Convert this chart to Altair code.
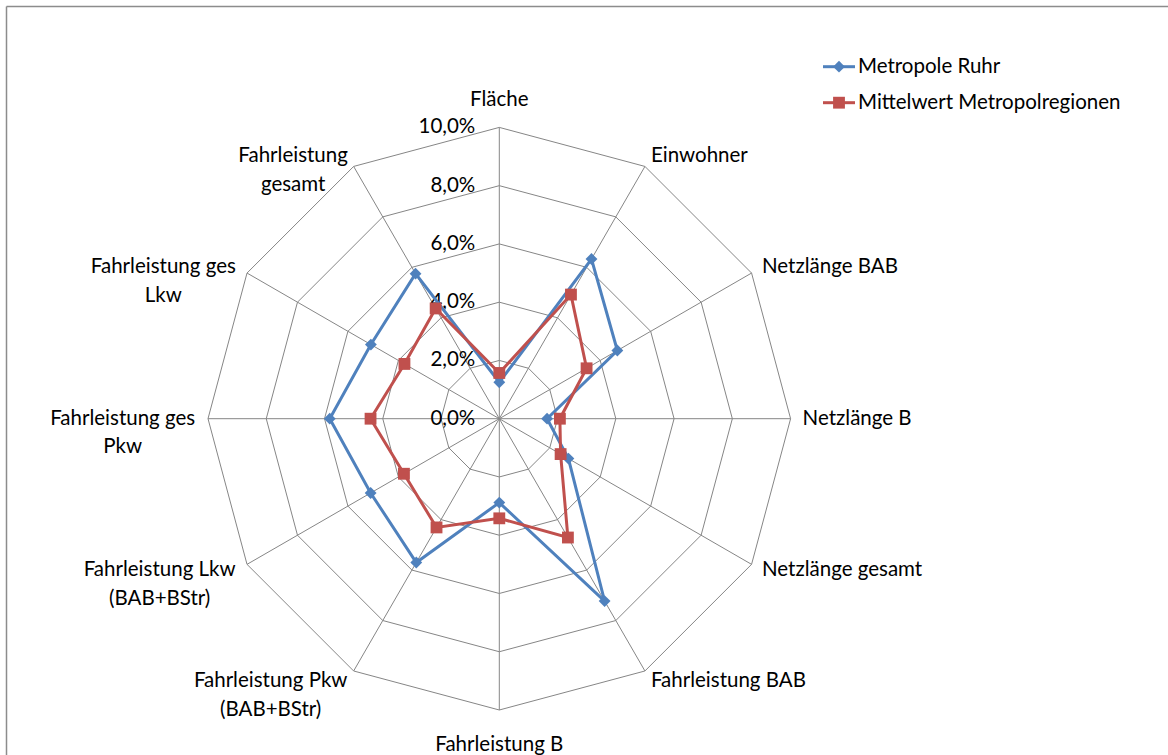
import math
import textwrap

import altair as alt
import pandas as pd

# ---- data -------------------------------------------------------------
categories = [
    "Fläche", "Einwohner", "Netzlänge BAB", "Netzlänge B", "Netzlänge gesamt",
    "Fahrleistung BAB", "Fahrleistung B", "Fahrleistung Pkw (BAB+BStr)",
    "Fahrleistung Lkw (BAB+BStr)", "Fahrleistung ges Pkw", "Fahrleistung ges Lkw",
    "Fahrleistung gesamt",
]
ruhr = [1.25, 6.33, 4.68, 1.64, 2.74, 7.23, 2.88, 5.70, 5.10, 5.82, 5.09, 5.75]
mittel = [1.57, 4.92, 3.46, 2.08, 2.43, 4.71, 3.42, 4.31, 3.78, 4.42, 3.76, 4.37]
series_names = ["Metropole Ruhr", "Mittelwert Metropolregionen"]
series_colors = ["#4F81BD", "#C0504D"]
series_shapes = ["diamond", "square"]
tick_values = [0, 2, 4, 6, 8, 10]
tick_labels = ["0,0%", "2,0%", "4,0%", "6,0%", "8,0%", "10,0%"]

# ---- layout -----------------------------------------------------------
W, H = 1168, 755
CX, CY = 499.3, 418.7          # pixel position of the radar centre
PX = 29.13                     # pixels per percentage point
FONT = "Lato"
FS = 20.5
GRID = "#868686"
N = len(categories)

xs = alt.Scale(domain=[-CX / PX, (W - CX) / PX], nice=False, zero=False)
ys = alt.Scale(domain=[-(H - CY) / PX, CY / PX], nice=False, zero=False)

ANGLE = f"datum.k * 2 * PI / {N}"

# ---- grid -------------------------------------------------------------
rings = pd.DataFrame(
    [{"level": lv, "k": k} for lv in tick_values[1:] for k in range(N + 1)]
)
ring_layer = (
    alt.Chart(rings)
    .transform_calculate(a=ANGLE)
    .transform_calculate(gx="datum.level * sin(datum.a)", gy="datum.level * cos(datum.a)")
    .mark_line(color=GRID, strokeWidth=1)
    .encode(
        x=alt.X("gx:Q", scale=xs, axis=None),
        y=alt.Y("gy:Q", scale=ys, axis=None),
        detail="level:N",
        order="k:Q",
    )
)

spokes = pd.DataFrame({"k": list(range(N)), "r": [tick_values[-1]] * N})
spoke_layer = (
    alt.Chart(spokes)
    .transform_calculate(a=ANGLE)
    .transform_calculate(
        x0="0", y0="0",
        x1="datum.r * sin(datum.a)", y1="datum.r * cos(datum.a)",
    )
    .mark_rule(color=GRID, strokeWidth=1)
    .encode(
        x=alt.X("x0:Q", scale=xs, axis=None),
        y=alt.Y("y0:Q", scale=ys, axis=None),
        x2="x1:Q",
        y2="y1:Q",
    )
)

ticks = pd.DataFrame({"v": tick_values, "label": tick_labels})
tick_layer = (
    alt.Chart(ticks)
    .transform_calculate(x0="0")
    .mark_text(align="right", baseline="middle", dx=-24, font=FONT, fontSize=FS, color="#000000")
    .encode(
        x=alt.X("x0:Q", scale=xs, axis=None),
        y=alt.Y("v:Q", scale=ys, axis=None),
        text="label:N",
    )
)

# ---- category labels ----------------------------------------------------
def est_width(s, fs):
    narrow = set("iljtfr ,.()I")
    wide = set("mwMW")
    w = 0.0
    for ch in s:
        if ch in narrow:
            w += 0.27
        elif ch in wide:
            w += 0.80
        elif ch.isupper() or ch == "+":
            w += 0.60
        else:
            w += 0.52
    return w * fs

GAP = 12  # px between outer ring and label
rows = []
for k, name in enumerate(categories):
    a = k * 2 * math.pi / N
    s, c = math.sin(a), math.cos(a)
    ax = (tick_values[-1] + GAP / PX) * s
    ay = (tick_values[-1] + GAP / PX) * c
    lines = textwrap.wrap(name, width=16)
    if s > 0.1:
        side = "right"
    elif s < -0.1:
        side = "left"
        block = max(est_width(t, FS) for t in lines)
        ax -= block / 2 / PX
    else:
        side = "center"
        ay += (15 if c > 0 else -23) / PX
    rows.append({"name": name, "lines": lines, "lx": ax, "ly": ay, "side": side})
labels = pd.DataFrame(rows)


def label_layer(side, align):
    return (
        alt.Chart(labels)
        .transform_filter(alt.datum.side == side)
        .mark_text(align=align, baseline="middle", font=FONT, fontSize=FS,
                   lineHeight=28.5, color="#000000")
        .encode(
            x=alt.X("lx:Q", scale=xs, axis=None),
            y=alt.Y("ly:Q", scale=ys, axis=None),
            text="lines",
        )
    )


# ---- series -------------------------------------------------------------
def series_layers(name, values, color, shape):
    df = pd.DataFrame({"k": list(range(N + 1)), "v": values + values[:1], "series": name})
    base = (
        alt.Chart(df)
        .transform_calculate(a=ANGLE)
        .transform_calculate(px="datum.v * sin(datum.a)", py="datum.v * cos(datum.a)")
        .encode(
            x=alt.X("px:Q", scale=xs, axis=None),
            y=alt.Y("py:Q", scale=ys, axis=None),
        )
    )
    line = base.mark_line(color=color, strokeWidth=3).encode(order="k:Q")
    pts = (
        base.transform_filter(f"datum.k < {N}")
        .mark_point(shape=shape, filled=True, color=color, size=140, opacity=1)
    )
    return [line, pts]


series_charts = []
for nm, vals, col, shp in zip(series_names, [ruhr, mittel], series_colors, series_shapes):
    series_charts += series_layers(nm, vals, col, shp)

# ---- legend -------------------------------------------------------------
legend_df = pd.DataFrame({"series": series_names, "row": [0, 1]})
LEG_X0, LEG_X1, LEG_Y0, LEG_DY = 823, 855, 66.7, 36
legend_layers = []
for i, (nm, col, shp) in enumerate(zip(series_names, series_colors, series_shapes)):
    one = legend_df[legend_df.series == nm]
    yv = LEG_Y0 + i * LEG_DY
    legend_layers.append(
        alt.Chart(one).mark_rule(color=col, strokeWidth=3).encode(
            x=alt.value(LEG_X0), x2=alt.value(LEG_X1), y=alt.value(yv)
        )
    )
    legend_layers.append(
        alt.Chart(one).mark_point(shape=shp, filled=True, color=col, size=140, opacity=1).encode(
            x=alt.value((LEG_X0 + LEG_X1) / 2), y=alt.value(yv)
        )
    )
    legend_layers.append(
        alt.Chart(one).mark_text(align="left", baseline="middle", font=FONT, fontSize=FS,
                                 color="#000000").encode(
            x=alt.value(LEG_X1 + 3), y=alt.value(yv), text="series:N"
        )
    )

# ---- outer frame ---------------------------------------------------------
frame_df = pd.DataFrame({"edge": ["top", "left"]})
frame = [
    alt.Chart(frame_df.iloc[:1]).mark_rule(color="#8c8c8c", strokeWidth=1.5).encode(
        x=alt.value(6.5), x2=alt.value(W), y=alt.value(6.5)
    ),
    alt.Chart(frame_df.iloc[1:]).mark_rule(color="#8c8c8c", strokeWidth=1.5).encode(
        x=alt.value(6.5), y=alt.value(6.5), y2=alt.value(H)
    ),
]

chart = (
    alt.layer(
        *frame,
        ring_layer,
        spoke_layer,
        tick_layer,
        label_layer("center", "center"),
        label_layer("right", "left"),
        label_layer("left", "center"),
        *series_charts,
        *legend_layers,
    )
    .properties(width=W, height=H, autosize=alt.AutoSizeParams(type="none"), padding=0,
                background="#ffffff")
    .configure_view(stroke=None)
)

chart.save("out.html", embed_options={"renderer": "svg", "actions": False})
